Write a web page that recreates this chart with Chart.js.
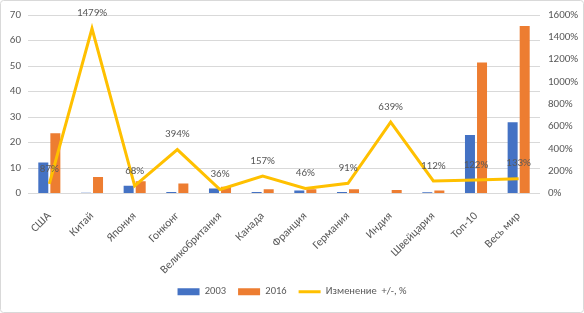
<!DOCTYPE html>
<html><head><meta charset="utf-8">
<script src="https://cdn.jsdelivr.net/npm/chart.js@4.4.1/dist/chart.umd.min.js"></script>
<style>
html,body{margin:0;padding:0;background:#fff;}
#wrap{position:relative;width:584px;height:313px;}
</style></head>
<body><div id="wrap"><canvas id="c" width="584" height="313"></canvas></div>
<script>
const categories = ['США','Китай','Япония','Гонконг','Великобритания','Канада','Франция','Германия','Индия','Швейцария','Топ-10','Весь мир'];
const values2003 = [12.2, 0.3, 3.0, 0.6, 2.0, 0.6, 1.2, 0.6, 0, 0.5, 22.9, 27.9];
const values2016 = [23.6, 6.5, 4.8, 3.9, 2.6, 1.7, 1.7, 1.7, 1.4, 1.2, 51.4, 65.7];
const changePct = [87, 1479, 68, 394, 36, 157, 46, 91, 639, 112, 122, 133];
const leftTicks = [0, 70, 10];
const rightTicks = [0, 1600, 200];

const FONT = "Carlito, 'Liberation Sans', Arial, sans-serif";
const TXT = '#595959';

const bgPlugin = {
  id: 'bg',
  beforeDraw(chart) {
    const ctx = chart.ctx;
    ctx.save();
    ctx.fillStyle = '#fff';
    ctx.fillRect(0, 0, chart.width, chart.height);
    ctx.restore();
  },
  afterDraw(chart) {
    const ctx = chart.ctx;
    ctx.save();
    ctx.strokeStyle = '#d9d9d9';
    ctx.lineWidth = 1;
    ctx.beginPath();
    ctx.roundRect(0.5, 0.5, chart.width - 1, chart.height - 1, 3);
    ctx.stroke();
    ctx.restore();
  }
};

const labelPlugin = {
  id: 'lineLabels',
  afterDatasetsDraw(chart) {
    const ctx = chart.ctx;
    const meta = chart.getDatasetMeta(2);
    ctx.save();
    ctx.font = '11px ' + FONT;
    ctx.fillStyle = TXT;
    ctx.textAlign = 'center';
    ctx.textBaseline = 'middle';
    meta.data.forEach((pt, i) => {
      ctx.fillText(changePct[i] + '%', pt.x, pt.y - 15);
    });
    ctx.restore();
  }
};

new Chart(document.getElementById('c'), {
  data: {
    labels: categories,
    datasets: [
      { type: 'bar', label: '2003', data: values2003, backgroundColor: '#4472C4', yAxisID: 'y', order: 2,
        categoryPercentage: 0.565, barPercentage: 0.83 },
      { type: 'bar', label: '2016', data: values2016, backgroundColor: '#ED7D31', yAxisID: 'y', order: 2,
        categoryPercentage: 0.565, barPercentage: 0.83 },
      { type: 'line', label: 'Изменение  +/-, %', data: changePct, borderColor: '#FFC000', backgroundColor: '#FFC000',
        borderWidth: 3, pointRadius: 0, tension: 0, yAxisID: 'y1', order: 1 }
    ]
  },
  options: {
    responsive: false,
    animation: false,
    layout: { padding: { top: 15, left: 0, right: 0, bottom: 6 } },
    scales: {
      x: {
        grid: { display: false, drawTicks: false },
        border: { display: false },
        ticks: { color: TXT, font: { family: FONT, size: 11.5 }, minRotation: 45, maxRotation: 45, autoSkip: false, padding: 16 },
        afterFit(s) { s.height = 81; }
      },
      y: {
        position: 'left', min: leftTicks[0], max: leftTicks[1],
        ticks: { stepSize: leftTicks[2], color: TXT, font: { family: FONT, size: 11 }, padding: 7 },
        grid: { color: '#d9d9d9', drawTicks: false },
        border: { display: false },
        afterFit(s) { s.width = 28; }
      },
      y1: {
        position: 'right', min: rightTicks[0], max: rightTicks[1],
        ticks: { stepSize: rightTicks[2], color: TXT, font: { family: FONT, size: 11 }, padding: 8, callback: v => v + '%' },
        grid: { display: false, drawTicks: false },
        border: { display: false },
        afterFit(s) { s.width = 44; }
      }
    },
    plugins: {
      legend: {
        position: 'bottom',
        labels: {
          color: TXT, font: { family: FONT, size: 10.5 },
          usePointStyle: true, boxHeight: 7, pointStyleWidth: 22, padding: 12,
          generateLabels(chart) {
            return chart.data.datasets.map((d, i) => ({
              text: d.label,
              fillStyle: d.backgroundColor,
              strokeStyle: d.type === 'line' ? d.borderColor : d.backgroundColor,
              lineWidth: d.type === 'line' ? 3 : 0,
              pointStyle: d.type === 'line' ? 'line' : 'rect',
              fontColor: TXT,
              hidden: false,
              datasetIndex: i
            }));
          }
        }
      },
      tooltip: { enabled: false }
    }
  },
  plugins: [bgPlugin, labelPlugin]
});
</script>
</body></html>
